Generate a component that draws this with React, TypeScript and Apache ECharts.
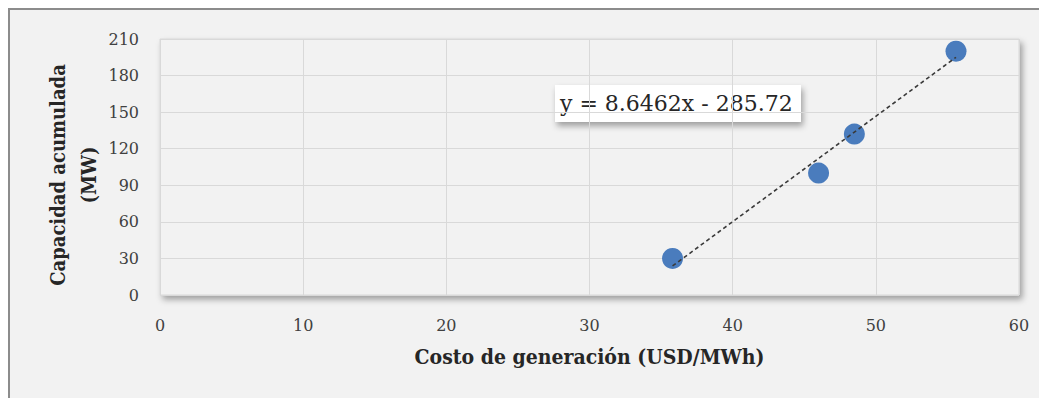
import React, { useEffect, useRef } from "react";
import * as echarts from "echarts";

const costoX: number[] = [35.8, 46.0, 48.5, 55.6];
const capacidadY: number[] = [30, 100, 132, 200];
const trendSlope = 8.6462;
const trendIntercept = -285.72;
const equationLabel = "y = 8.6462x - 285.72";
const xTitle = "Costo de generación (USD/MWh)";
const yTitle = "Capacidad acumulada\n(MW)";

const SERIF = '"DejaVu Serif", "Liberation Serif", serif';
const BOLD_SERIF = '"DejaVu Serif Condensed", "DejaVu Serif", "Liberation Serif", serif';

export default function App() {
  const ref = useRef<HTMLDivElement>(null);
  useEffect(() => {
    if (!ref.current) return;
    const chart = echarts.init(ref.current, undefined, { renderer: "svg" });
    const xMin = Math.min(...costoX);
    const xMax = Math.max(...costoX);
    const trend = [
      [xMin, trendSlope * xMin + trendIntercept],
      [xMax, trendSlope * xMax + trendIntercept],
    ];
    chart.setOption({
      animation: false,
      backgroundColor: "#f2f2f2",
      grid: {
        left: 150,
        top: 29,
        width: 859,
        height: 256,
        show: true,
        backgroundColor: "#f2f2f2",
        borderColor: "#d9d9d9",
        borderWidth: 1,
        shadowBlur: 6,
        shadowOffsetX: 3,
        shadowOffsetY: 4,
        shadowColor: "rgba(0,0,0,0.35)",
      },
      xAxis: {
        type: "value",
        min: 0,
        max: 60,
        interval: 10,
        name: xTitle,
        nameLocation: "middle",
        nameGap: 51,
        nameTextStyle: { fontFamily: BOLD_SERIF, fontWeight: "bold", fontSize: 21, color: "#262626" },
        axisLine: { show: false },
        axisTick: { show: false },
        axisLabel: { fontFamily: SERIF, fontSize: 16, color: "#404040", margin: 22 },
        splitLine: { lineStyle: { color: "#d9d9d9", width: 1 } },
      },
      yAxis: {
        type: "value",
        min: 0,
        max: 210,
        interval: 30,
        name: yTitle,
        nameLocation: "middle",
        nameGap: 56,
        nameMoveOverlap: false,
        nameTextStyle: { fontFamily: BOLD_SERIF, fontWeight: "bold", fontSize: 20, color: "#262626", lineHeight: 31, padding: [0, 16, 0, 0] },
        axisLine: { show: false },
        axisTick: { show: false },
        axisLabel: { fontFamily: SERIF, fontSize: 16, color: "#404040", margin: 21 },
        splitLine: { lineStyle: { color: "#d9d9d9", width: 1 } },
      },
      series: [
        {
          type: "line",
          data: trend,
          symbol: "none",
          lineStyle: { color: "#3a3a3a", width: 1.6, type: [4, 3] },
          z: 3,
          silent: true,
        },
        {
          type: "scatter",
          data: costoX.map((x, i) => [x, capacidadY[i]]),
          symbolSize: 21,
          itemStyle: { color: "#4a7cbd", opacity: 1 },
          z: 2,
        },
      ],
      graphic: [
        {
          type: "group",
          left: 545,
          top: 75,
          children: [
            {
              type: "rect",
              shape: { x: 0, y: 0, width: 246, height: 37 },
              style: {
                fill: "#ffffff",
                shadowBlur: 6,
                shadowOffsetX: 2,
                shadowOffsetY: 4,
                shadowColor: "rgba(0,0,0,0.35)",
              },
            },
            {
              type: "text",
              x: 5,
              y: 18,
              style: {
                text: equationLabel,
                fontFamily: SERIF,
                fontSize: 22,
                fill: "#262626",
                verticalAlign: "middle",
              },
            },
          ],
        },
      ],
    });
    return () => chart.dispose();
  }, []);
  return (
    <div
      style={{
        width: 1039,
        height: 390,
        borderTop: "2px solid #8c8c8c",
        borderLeft: "2px solid #8c8c8c",
        background: "#f2f2f2",
        boxSizing: "border-box",
        overflow: "hidden",
      }}
    >
      <div ref={ref} style={{ width: 1037, height: 388 }} />
    </div>
  );
}
